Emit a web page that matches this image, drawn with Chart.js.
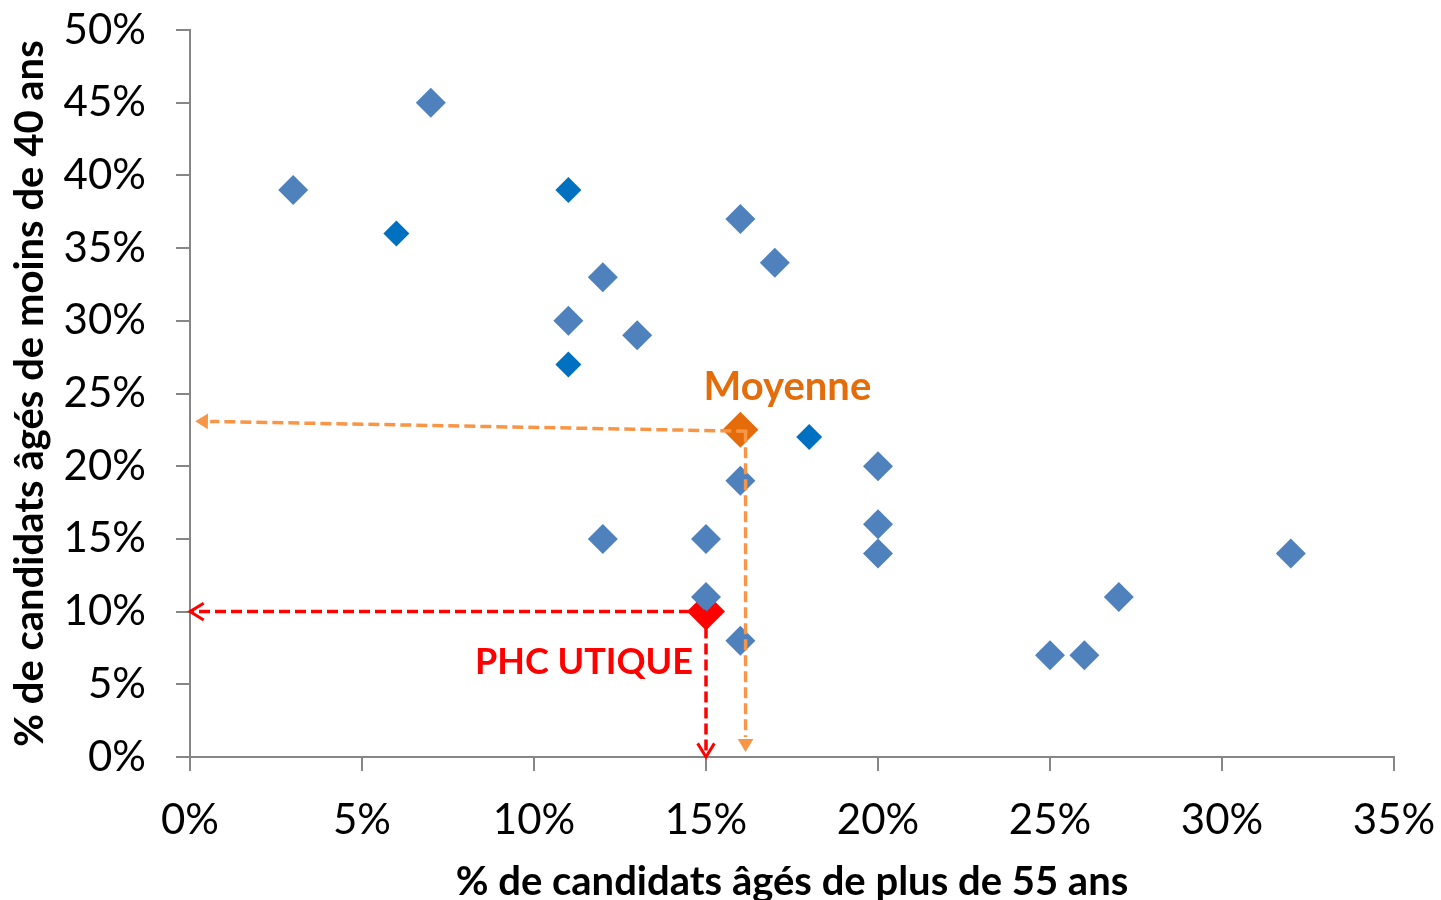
<!DOCTYPE html>
<html>
<head>
<meta charset="utf-8">
<script src="https://cdn.jsdelivr.net/npm/chart.js@4"></script>
<style>
  body { margin: 0; background: #fff; }
  #wrap { position: relative; width: 1441px; height: 900px; }
</style>
</head>
<body>
<div id="wrap"><canvas id="chart"></canvas></div>
<script>
// x = % de candidats de plus de 55 ans, y = % de moins de 40 ans
const lightX = [3, 7, 16, 17, 12, 11, 13, 20, 16, 12, 15, 20, 20, 32, 15, 27, 16, 25, 26];
const lightY = [39, 45, 37, 34, 33, 30, 29, 20, 19, 15, 15, 16, 14, 14, 11, 11, 8, 7, 7];
const darkX = [6, 11, 11, 18];
const darkY = [36, 39, 27, 22];
const averageX = [16];
const averageY = [22.5];
const phcX = [15];
const phcY = [10];

// dashed arrows (start -> tip), in axis units
const arrowStartX = [16.2, 16.15, 15, 15];
const arrowStartY = [22.4, 22.4, 10, 10];
const arrowEndX = [0.15, 16.15, 0, 15];
const arrowEndY = [23.1, 0.35, 10, 0];

const xTicks = [0, 5, 10, 15, 20, 25, 30, 35];
const yTicks = [0, 5, 10, 15, 20, 25, 30, 35, 40, 45, 50];

const FONT = "Lato, 'Open Sans', sans-serif";
const ORANGE = "#E46C0A";
const ARROW_ORANGE = "#F79646";
const RED = "#FF0000";

const arrowStyles = [
  { color: ARROW_ORANGE, head: "filled" },
  { color: ARROW_ORANGE, head: "filled" },
  { color: RED, head: "open" },
  { color: RED, head: "open" },
];

const pts = (xs, ys) => xs.map((x, i) => ({ x: x, y: ys[i] }));

const arrowsPlugin = {
  id: "arrows",
  afterDatasetsDraw(chart) {
    const { ctx, scales } = chart;
    const sx = scales.x, sy = scales.y;
    ctx.save();
    arrowStartX.forEach((_, i) => {
      const x1 = sx.getPixelForValue(arrowStartX[i]);
      const y1 = sy.getPixelForValue(arrowStartY[i]);
      const x2 = sx.getPixelForValue(arrowEndX[i]);
      const y2 = sy.getPixelForValue(arrowEndY[i]);
      const st = arrowStyles[i];
      const ang = Math.atan2(y2 - y1, x2 - x1);
      const headLen = st.head === "filled" ? 15 : 16;
      // stop the line short of a filled head
      const ex = st.head === "filled" ? x2 - Math.cos(ang) * headLen : x2;
      const ey = st.head === "filled" ? y2 - Math.sin(ang) * headLen : y2;

      ctx.strokeStyle = st.color;
      ctx.fillStyle = st.color;
      ctx.lineWidth = 3.5;
      ctx.setLineDash([11, 5]);
      ctx.beginPath();
      ctx.moveTo(x1, y1);
      ctx.lineTo(ex, ey);
      ctx.stroke();
      ctx.setLineDash([]);

      const a1 = ang + Math.PI - 0.55;
      const a2 = ang + Math.PI + 0.55;
      ctx.beginPath();
      ctx.moveTo(x2 + Math.cos(a1) * headLen, y2 + Math.sin(a1) * headLen);
      ctx.lineTo(x2, y2);
      ctx.lineTo(x2 + Math.cos(a2) * headLen, y2 + Math.sin(a2) * headLen);
      if (st.head === "filled") {
        ctx.closePath();
        ctx.fill();
      } else {
        ctx.lineWidth = 3;
        ctx.stroke();
      }
    });
    ctx.restore();
  },
};

const labelsPlugin = {
  id: "pointLabels",
  afterDatasetsDraw(chart) {
    const { ctx, scales } = chart;
    const items = [
      { text: "Moyenne", color: ORANGE, size: 40, x: averageX[0], y: averageY[0], dx: 47, dy: -43 },
      { text: "PHC UTIQUE", color: RED, size: 36, x: phcX[0], y: phcY[0], dx: -122, dy: 51 },
    ];
    ctx.save();
    ctx.textAlign = "center";
    ctx.textBaseline = "middle";
    items.forEach((it) => {
      ctx.font = "bold " + it.size + "px " + FONT;
      ctx.fillStyle = it.color;
      ctx.fillText(it.text, scales.x.getPixelForValue(it.x) + it.dx, scales.y.getPixelForValue(it.y) + it.dy);
    });
    ctx.restore();
  },
};

const axisGrey = "#868686";

new Chart(document.getElementById("chart"), {
  type: "scatter",
  data: {
    datasets: [
      {
        data: pts(lightX, lightY),
        backgroundColor: "#4F81BD",
        borderWidth: 0,
        pointStyle: "rectRot",
        pointRadius: 15,
        order: 1,
      },
      {
        data: pts(darkX, darkY),
        backgroundColor: "#0070C0",
        borderWidth: 0,
        pointStyle: "rectRot",
        pointRadius: 13,
        order: 1,
      },
      {
        data: pts(averageX, averageY),
        backgroundColor: ORANGE,
        borderWidth: 0,
        pointStyle: "rectRot",
        pointRadius: 18,
        order: 2,
      },
      {
        data: pts(phcX, phcY),
        backgroundColor: RED,
        borderWidth: 0,
        pointStyle: "rectRot",
        pointRadius: 19,
        order: 3,
      },
    ],
  },
  options: {
    responsive: true,
    maintainAspectRatio: false,
    animation: false,
    events: [],
    layout: { padding: { top: 30, right: 47, left: 0, bottom: 0 } },
    plugins: {
      legend: { display: false },
      tooltip: { enabled: false },
    },
    scales: {
      x: {
        type: "linear",
        min: 0,
        max: 35,
        afterBuildTicks: (scale) => { scale.ticks = xTicks.map((v) => ({ value: v })); },
        afterFit: (scale) => {
          scale.height = 143;
          scale.paddingLeft = 0;
          scale.paddingRight = 0;
        },
        border: { color: axisGrey, width: 2 },
        grid: { drawOnChartArea: false, drawTicks: true, tickLength: 14, color: axisGrey, lineWidth: 2 },
        ticks: {
          padding: 24,
          color: "#000",
          font: { family: FONT, size: 42 },
          maxRotation: 0,
          callback: (v) => v + "%",
        },
        title: {
          display: true,
          text: "% de candidats âgés de plus de 55 ans",
          color: "#000",
          font: { family: FONT, size: 40, weight: "bold" },
          padding: { top: 10, bottom: -6 },
        },
      },
      y: {
        type: "linear",
        min: 0,
        max: 50,
        afterBuildTicks: (scale) => { scale.ticks = yTicks.map((v) => ({ value: v })); },
        afterFit: (scale) => {
          scale.width = 190;
          scale.paddingTop = 0;
          scale.paddingBottom = 0;
        },
        border: { color: axisGrey, width: 2 },
        grid: { drawOnChartArea: false, drawTicks: true, tickLength: 14, color: axisGrey, lineWidth: 2 },
        ticks: {
          padding: 30,
          color: "#000",
          font: { family: FONT, size: 42 },
          callback: (v) => v + "%",
        },
        title: {
          display: true,
          text: "% de candidats âgés de moins de 40 ans",
          color: "#000",
          font: { family: FONT, size: 40, weight: "bold" },
          padding: { top: 6, bottom: 0 },
        },
      },
    },
  },
  plugins: [arrowsPlugin, labelsPlugin],
});
</script>
</body>
</html>
